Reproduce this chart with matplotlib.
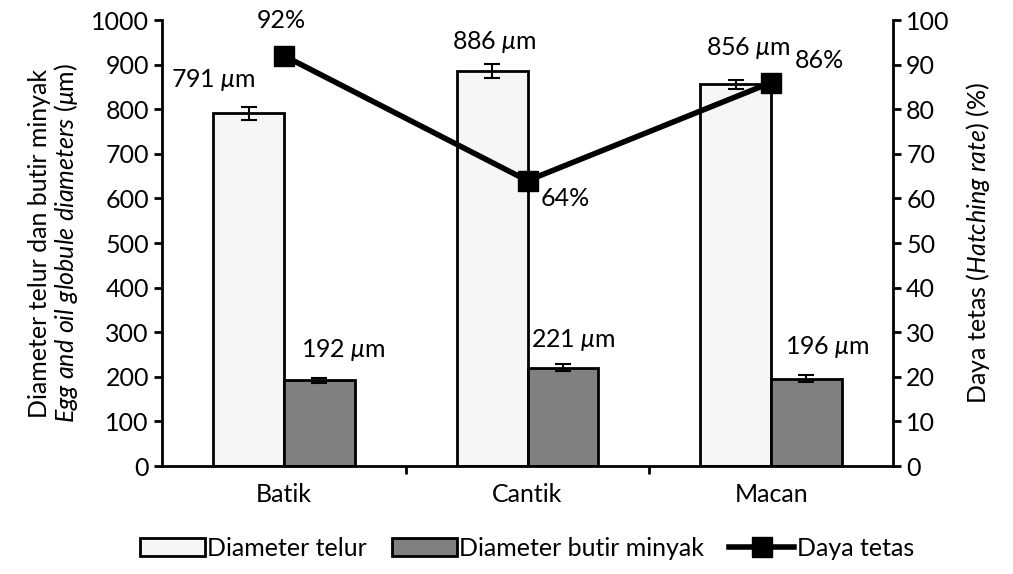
import numpy as np
import matplotlib.pyplot as plt
from matplotlib.lines import Line2D
from matplotlib.patches import Patch

plt.rcParams['font.family'] = ['Lato', 'DejaVu Sans']
plt.rcParams['mathtext.fontset'] = 'custom'
plt.rcParams['mathtext.rm'] = 'Lato'
plt.rcParams['mathtext.it'] = 'Lato:italic'

# data
species = ['Batik', 'Cantik', 'Macan']
egg_diam = [791, 886, 856]
egg_err = [15, 15, 10]
oil_diam = [192, 221, 196]
oil_err = [6, 8, 8]
hatch_rate = [92, 64, 86]

x = np.arange(len(species))
w = 0.29
fs = 18

fig = plt.figure(figsize=(10.13, 5.74), dpi=100)
ax = fig.add_axes([0.16, 0.188, 0.7215, 0.777])

ax.bar(x - w/2, egg_diam, w, color='#f6f6f6', edgecolor='black', linewidth=2,
       yerr=egg_err, error_kw=dict(ecolor='black', elinewidth=1.5, capsize=6, capthick=1.5))
ax.bar(x + w/2, oil_diam, w, color='#808080', edgecolor='black', linewidth=2,
       yerr=oil_err, error_kw=dict(ecolor='black', elinewidth=1.5, capsize=6, capthick=1.5))

ax.set_xlim(-0.5, 2.5)
ax.set_ylim(0, 1000)
ax.set_yticks(np.arange(0, 1001, 100))
ax.set_xticks(x)
ax.set_xticklabels(species)
ax.set_xticks([0.5, 1.5], minor=True)
ax.tick_params(axis='x', which='major', length=0, pad=12)
ax.tick_params(axis='x', which='minor', length=6, width=2, direction='out')
ax.tick_params(axis='y', length=6, width=2, direction='out')
ax.tick_params(labelsize=fs)
for s in ['top', 'right']:
    ax.spines[s].set_visible(False)
for s in ['left', 'bottom']:
    ax.spines[s].set_linewidth(2)
ax.set_ylabel('Diameter telur dan butir minyak\n'
              r'$\mathit{Egg\ and\ oil\ globule\ diameters}$ ($\mathit{\mu}$m)',
              fontsize=fs, labelpad=8, linespacing=1.05)

# value label offsets (category units, data units)
egg_off = [(-0.144, 74), (0.01, 64), (0.05, 81)]
oil_off = [(0.10, 68), (0.045, 61), (0.086, 71)]
for i in range(3):
    ax.text(x[i] - w/2 + egg_off[i][0], egg_diam[i] + egg_off[i][1],
            f'{egg_diam[i]} ' + r'$\mu$m', ha='center', va='center', fontsize=fs)
    ax.text(x[i] + w/2 + oil_off[i][0], oil_diam[i] + oil_off[i][1],
            f'{oil_diam[i]} ' + r'$\mu$m', ha='center', va='center', fontsize=fs)

ax2 = ax.twinx()
ax2.plot(x, hatch_rate, color='black', linewidth=4, marker='s', markersize=15)
ax2.set_ylim(0, 100)
ax2.set_yticks(np.arange(0, 101, 10))
ax2.tick_params(axis='y', length=6, width=2, direction='out', labelsize=fs)
for s in ['top', 'left', 'bottom']:
    ax2.spines[s].set_visible(False)
ax2.spines['right'].set_linewidth(2)
ax2.set_ylabel(r'Daya tetas ($\mathit{Hatching\ rate}$) (%)', fontsize=fs, labelpad=10)

pct_off = [(-0.01, 8), (0.156, -4), (0.2, 5)]
for i in range(3):
    ax2.text(x[i] + pct_off[i][0], hatch_rate[i] + pct_off[i][1], f'{hatch_rate[i]}%',
             ha='center', va='center', fontsize=fs)

handles = [Patch(facecolor='#f6f6f6', edgecolor='black', linewidth=2),
           Patch(facecolor='#808080', edgecolor='black', linewidth=2),
           Line2D([], [], color='black', linewidth=4, marker='s', markersize=15)]
fig.legend(handles, ['Diameter telur', 'Diameter butir minyak', 'Daya tetas'],
           loc='center', bbox_to_anchor=(0.52, 0.045), ncol=3, frameon=False,
           fontsize=fs, handlelength=2.6, handletextpad=0.1, columnspacing=1.0)

fig.savefig('out.png', dpi=100)
